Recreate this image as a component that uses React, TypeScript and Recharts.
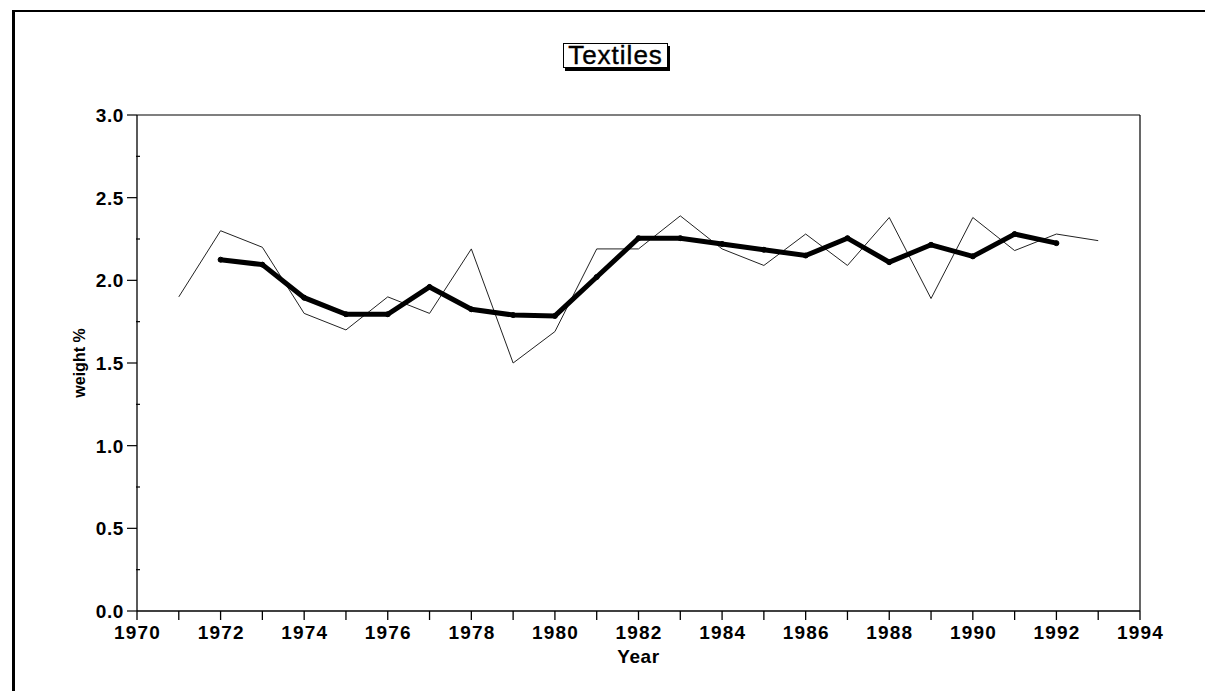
import React from 'react';
import { LineChart, Line, XAxis, YAxis, ReferenceLine } from 'recharts';

const years = [1971, 1972, 1973, 1974, 1975, 1976, 1977, 1978, 1979, 1980, 1981, 1982, 1983, 1984, 1985, 1986, 1987, 1988, 1989, 1990, 1991, 1992, 1993];
const annualValues = [1.9, 2.3, 2.2, 1.8, 1.7, 1.9, 1.8, 2.19, 1.5, 1.69, 2.19, 2.19, 2.39, 2.19, 2.09, 2.28, 2.09, 2.38, 1.89, 2.38, 2.18, 2.28, 2.24];
const smoothedValues: (number | null)[] = [null, 2.125, 2.095, 1.895, 1.795, 1.795, 1.96, 1.825, 1.79, 1.785, 2.02, 2.255, 2.255, 2.22, 2.185, 2.15, 2.255, 2.11, 2.215, 2.145, 2.28, 2.225, null];
const xTicks = [1970, 1971, 1972, 1973, 1974, 1975, 1976, 1977, 1978, 1979, 1980, 1981, 1982, 1983, 1984, 1985, 1986, 1987, 1988, 1989, 1990, 1991, 1992, 1993, 1994];
const yTicks = [0, 0.25, 0.5, 0.75, 1.0, 1.25, 1.5, 1.75, 2.0, 2.25, 2.5, 2.75, 3.0];

const data = years.map((y, i) => ({ year: y, raw: annualValues[i], smooth: smoothedValues[i] }));

const FONT = '"Liberation Sans", Arial, Helvetica, sans-serif';
const TICK_SIZE = 9;
const TICK_MARGIN = 6;

const XTick = (props: any) => {
  const { x, y, payload } = props;
  const v = payload.value as number;
  const axisY = y - TICK_SIZE - TICK_MARGIN;
  return (
    <g>
      <line x1={x} x2={x} y1={axisY} y2={axisY + TICK_SIZE} stroke="#000" strokeWidth={1.3} />
      {v % 2 === 0 ? (
        <text x={x + 0.6} y={y} dy="0.71em" textAnchor="middle" fontFamily={FONT} fontWeight="bold" fontSize={19} letterSpacing={1.2} fill="#000">
          {v}
        </text>
      ) : null}
    </g>
  );
};

const YTick = (props: any) => {
  const { x, y, payload } = props;
  const v = payload.value as number;
  const axisX = x + TICK_SIZE + TICK_MARGIN;
  const major = Math.abs(v * 2 - Math.round(v * 2)) < 1e-6;
  return (
    <g>
      {major ? (
        <line x1={axisX - 10} x2={axisX} y1={y} y2={y} stroke="#000" strokeWidth={1.2} />
      ) : (
        <line x1={axisX - 1} x2={axisX + 3} y1={y} y2={y} stroke="#000" strokeWidth={1.2} />
      )}
      {major ? (
        <text x={axisX - 13} y={y} dy="0.36em" textAnchor="end" fontFamily={FONT} fontWeight="bold" fontSize={19} letterSpacing={0.6} fill="#000">
          {v.toFixed(1)}
        </text>
      ) : null}
    </g>
  );
};

const YLabel = (props: any) => {
  const vb = props.viewBox || { x: 77, y: 115, width: 60, height: 496 };
  const cx = vb.x + 2;
  const cy = vb.y + vb.height / 2;
  return (
    <text x={cx} y={cy} transform={`rotate(-90 ${cx} ${cy})`} textAnchor="middle" dominantBaseline="central" fontFamily={FONT} fontWeight="bold" fontSize={16} fill="#000">
      weight %
    </text>
  );
};

const XLabel = (props: any) => {
  const vb = props.viewBox || { x: 137, y: 611, width: 1003, height: 52 };
  const cx = vb.x + vb.width / 2;
  return (
    <text x={cx} y={vb.y + 52} textAnchor="middle" fontFamily={FONT} fontWeight="bold" fontSize={19} letterSpacing={0.6} fill="#000">
      Year
    </text>
  );
};

export default function App() {
  return (
    <div style={{ position: 'absolute', left: 0, top: 0, width: 1205, height: 691, background: '#fff', overflow: 'hidden' }}>
      <div style={{ position: 'absolute', left: 12, top: 10, width: 1205, height: 700, borderLeft: '3px solid #000', borderTop: '2.5px solid #000', boxSizing: 'border-box' }} />
      <div
        style={{
          position: 'absolute', left: 563, top: 43, width: 105, height: 25, border: '1px solid #000',
          boxShadow: '2px 3px 0 #000', background: '#fff', boxSizing: 'border-box',
          fontFamily: FONT, fontSize: 26, lineHeight: '22px', letterSpacing: 1, textAlign: 'center', color: '#000',
          WebkitTextStroke: '0.4px #000'
        }}
      >
        Textiles
      </div>
      <div style={{ position: 'absolute', left: 0, top: 0 }}>
        <LineChart width={1205} height={691} data={data} margin={{ top: 115, right: 65, bottom: 28, left: 77 }}>
          <XAxis
            dataKey="year"
            type="number"
            domain={[1970, 1994]}
            ticks={xTicks}
            interval={0}
            height={52}
            tickSize={TICK_SIZE}
            tickMargin={TICK_MARGIN}
            tickLine={false}
            tick={<XTick />}
            axisLine={{ stroke: '#000', strokeWidth: 1.5 }}
            label={<XLabel />}
          />
          <YAxis
            type="number"
            domain={[0, 3]}
            ticks={yTicks}
            interval={0}
            width={60}
            tickSize={TICK_SIZE}
            tickMargin={TICK_MARGIN}
            tickLine={false}
            tick={<YTick />}
            axisLine={{ stroke: '#000', strokeWidth: 1.3 }}
            label={<YLabel />}
          />
          <ReferenceLine y={3} stroke="#000" strokeWidth={1.2} ifOverflow="visible" />
          <ReferenceLine x={1994} stroke="#000" strokeWidth={1.2} ifOverflow="visible" />
          <Line dataKey="raw" stroke="#222" strokeWidth={1} dot={false} isAnimationActive={false} />
          <Line dataKey="smooth" stroke="#000" strokeWidth={5} dot={{ r: 2.5, fill: '#000', stroke: '#000', strokeWidth: 1 }} isAnimationActive={false} />
        </LineChart>
      </div>
    </div>
  );
}
